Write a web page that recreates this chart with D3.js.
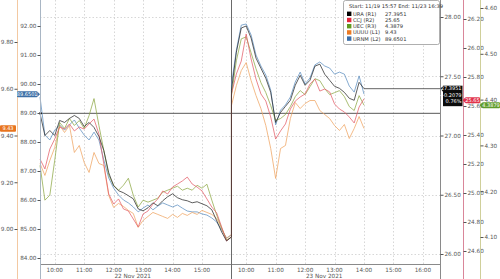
<!DOCTYPE html>
<html><head><meta charset="utf-8">
<script src="https://cdn.jsdelivr.net/npm/d3@7"></script>
<style>
html,body{margin:0;padding:0;background:#fff;}
svg{display:block;font-family:"DejaVu Sans",sans-serif;}
</style></head><body>
<svg id="chart" width="500" height="279"></svg>
<script>
// ---------------- DATA ----------------
const dayLabels = ["22 Nov 2021", "23 Nov 2021"];
const legendTitle = "Start: 11/19 15:57 End: 11/23 16:39";
const seriesNames = ["URA (R1)", "CCJ (R2)", "UEC (R3)", "UUUU (L1)", "URNM (L2)"];
const lastValues = ["27.3951", "25.65", "4.3879", "9.43", "89.6501"];
const uraChange = ["+0.2079", "0.76%"];
const uraPrevClose = 27.1872;
const day1TickLabels = ["10:00", "11:00", "12:00", "13:00", "14:00", "15:00"];
const day2TickLabels = ["10:00", "11:00", "12:00", "13:00", "14:00", "15:00", "16:00"];
const stepMinutes = 10; // sample spacing, from 09:30 each day

const uraTicks = [26, 26.5, 27, 27.5, 28];
const ccjTicks = [24.6, 24.8, 25.0, 25.2, 25.4, 25.6, 25.8, 26.0, 26.2];
const uecTicks = [4.1, 4.2, 4.3, 4.4, 4.5, 4.6];
const uuuuTicks = [9.0, 9.2, 9.4, 9.6, 9.8];
const urnmTicks = [84, 85, 86, 87, 88, 89, 90, 91, 92];

const ura1 = [27.186,27.000,27.042,27.000,27.127,27.110,27.144,27.169,27.144,27.076,27.110,27.068,26.992,26.873,26.686,26.576,26.534,26.517,26.492,26.466,26.381,26.364,26.390,26.432,26.407,26.449,26.483,26.508,26.475,26.458,26.449,26.432,26.441,26.424,26.407,26.373,26.280,26.186,26.110,26.144];
const ura2 = [27.381,27.703,27.907,27.924,27.822,27.653,27.568,27.483,27.364,27.110,27.195,27.246,27.297,27.424,27.508,27.424,27.466,27.585,27.602,27.517,27.466,27.415,27.398,27.364,27.314,27.297,27.449,27.3951];
const ccj1 = [25.234,25.166,25.303,25.372,25.455,25.441,25.476,25.428,25.455,25.441,25.476,25.510,25.407,25.200,24.993,24.924,24.959,24.890,24.876,24.821,24.766,24.855,24.876,24.924,24.959,25.014,24.993,25.041,25.062,25.083,25.110,25.062,25.041,25.014,24.959,24.903,24.862,24.766,24.669,24.697];
const ccj2 = [25.683,25.821,25.910,26.097,25.924,25.786,25.683,25.634,25.524,25.372,25.428,25.476,25.579,25.634,25.662,25.683,25.752,25.786,25.703,25.717,25.697,25.614,25.579,25.559,25.524,25.483,25.593,25.65];
const uec1 = [4.2565,4.1804,4.1913,4.2674,4.3500,4.3370,4.3587,4.3435,4.3543,4.3370,4.3652,4.4022,4.3435,4.2891,4.2348,4.2130,4.2022,4.2130,4.2283,4.1913,4.1652,4.1804,4.1761,4.1804,4.1848,4.1978,4.2022,4.2065,4.2109,4.2022,4.2065,4.2022,4.2130,4.2065,4.2152,4.1804,4.1478,4.1196,4.0935,4.1000];
const uec2 = [4.4087,4.4848,4.5326,4.5370,4.5022,4.4674,4.4370,4.4152,4.3870,4.3543,4.3587,4.3674,4.3848,4.4065,4.4196,4.4109,4.4283,4.4457,4.4413,4.4239,4.4109,4.4152,4.4196,4.4065,4.3848,4.3761,4.4087,4.3879];
const uuuu1 = [9.2803,9.2291,9.2932,9.3487,9.4427,9.4128,9.4427,9.3274,9.3573,9.2846,9.2419,9.3274,9.2803,9.2718,9.1436,9.0923,9.1094,9.0966,9.0795,9.0667,9.0068,9.0368,9.0538,9.0709,9.0624,9.0538,9.0453,9.0624,9.0496,9.0667,9.0581,9.0709,9.0624,9.0795,9.0709,9.0624,9.0453,9.0026,8.9598,8.9769];
const uuuu2 = [9.5282,9.6137,9.6778,9.7120,9.6350,9.5709,9.5154,9.4427,9.3444,9.2162,9.3444,9.3573,9.4726,9.5410,9.5154,9.5368,9.5496,9.5496,9.5068,9.4897,9.4726,9.4427,9.4214,9.4470,9.3872,9.4299,9.4812,9.43];
const urnm1 = [89.55,88.24,88.07,88.41,88.59,88.41,88.59,88.76,88.48,88.24,88.07,88.34,88.07,87.38,86.76,86.41,86.17,86.00,85.90,85.76,85.59,85.72,85.83,85.66,85.79,85.90,85.83,85.76,85.83,85.72,85.62,85.59,85.59,85.52,85.48,85.38,85.24,84.97,84.69,84.79];
const urnm2 = [89.97,91.17,92.03,92.07,91.69,91.00,90.62,90.31,89.79,88.59,89.10,89.28,89.55,90.07,90.41,90.00,90.21,90.66,90.76,90.62,90.55,90.34,90.41,90.34,89.93,89.72,90.28,89.6501];

// ---------------- LAYOUT ----------------
const W = 500, H = 279;
const L = 40, R = 440, T = 0, B = 264;
const sessionHours = 6.5; // 09:30 - 16:00
const svg = d3.select("#chart");

// continuous "trading hours" axis: day1 09:30 = 0, day2 09:30 = 6.5
const x = d3.scaleLinear().domain([0, 13.58]).range([L, R]);
const yURA = d3.scaleLinear().domain([26, 28]).range([254, 17]);
const yCCJ = d3.scaleLinear().domain([24.6, 26.2]).range([251, 19]);
const yUEC = d3.scaleLinear().domain([4.1, 4.6]).range([237, 8]);
const yUUUU = d3.scaleLinear().domain([9.0, 9.8]).range([229, 42]);
const yURNM = d3.scaleLinear().domain([84, 92]).range([258, 26]);

const tickPos1 = day1TickLabels.map((d, i) => 0.5 + i);
const tickPos2 = day2TickLabels.map((d, i) => sessionHours + 0.5 + i);

// grid
const grid = svg.append("g");
grid.selectAll("line.v").data(tickPos1.concat(tickPos2)).join("line")
  .attr("x1", d => Math.round(x(d)) + 0.5).attr("x2", d => Math.round(x(d)) + 0.5)
  .attr("y1", T).attr("y2", B)
  .attr("stroke", "#cdcdcd").attr("stroke-width", 0.8).attr("stroke-dasharray", "1.5,2");
grid.selectAll("line.h").data(uraTicks).join("line")
  .attr("x1", L).attr("x2", R)
  .attr("y1", d => Math.round(yURA(d)) + 0.5).attr("y2", d => Math.round(yURA(d)) + 0.5)
  .attr("stroke", "#cdcdcd").attr("stroke-width", 0.8).attr("stroke-dasharray", "1.5,2");

// frame
const sepX = Math.round(x(sessionHours)) + 0.5;
svg.append("line").attr("x1", L + 0.5).attr("x2", L + 0.5).attr("y1", T).attr("y2", H).attr("stroke", "#9aa6b2").attr("stroke-width", 1);
svg.append("line").attr("x1", R + 0.5).attr("x2", R + 0.5).attr("y1", T).attr("y2", B).attr("stroke", "#8a8a8a").attr("stroke-width", 1);
svg.append("line").attr("x1", L).attr("x2", R).attr("y1", B + 0.5).attr("y2", B + 0.5).attr("stroke", "#8a8a8a").attr("stroke-width", 1);
svg.append("line").attr("x1", sepX).attr("x2", sepX).attr("y1", T).attr("y2", H).attr("stroke", "#6a6a6a").attr("stroke-width", 1);

// prior close line for URA
svg.append("line").attr("x1", L).attr("x2", R)
  .attr("y1", yURA(uraPrevClose)).attr("y2", yURA(uraPrevClose))
  .attr("stroke", "#444").attr("stroke-width", 0.9);

// series
function build(v1, v2) {
  const pts = [];
  v1.forEach((v, i) => pts.push([i * stepMinutes / 60, v]));
  v2.forEach((v, i) => pts.push([sessionHours + i * stepMinutes / 60, v]));
  return pts;
}
const series = [
  {d: build(urnm1, urnm2), y: yURNM, c: "#5e8fc0"},
  {d: build(uuuu1, uuuu2), y: yUUUU, c: "#efa462"},
  {d: build(uec1, uec2), y: yUEC, c: "#8ea846"},
  {d: build(ccj1, ccj2), y: yCCJ, c: "#e35d68"},
  {d: build(ura1, ura2), y: yURA, c: "#2a2a2a"}
];
const plot = svg.append("g");
series.forEach(s => {
  plot.append("path").datum(s.d)
    .attr("fill", "none").attr("stroke", s.c).attr("stroke-width", 0.75)
    .attr("stroke-linejoin", "miter")
    .attr("d", d3.line().x(p => x(p[0])).y(p => s.y(p[1])));
});

// last value line for URA
const lastT = sessionHours + (ura2.length - 1) * stepMinutes / 60;
svg.append("line").attr("x1", x(lastT)).attr("x2", R)
  .attr("y1", yURA(+lastValues[0])).attr("y2", yURA(+lastValues[0]))
  .attr("stroke", "#555").attr("stroke-width", 0.9);
svg.append("circle").attr("cx", L + 0.5).attr("cy", yURA(uraPrevClose)).attr("r", 1.3).attr("fill", "#111");

// axes
const fmt = d3.format(".2f");
function yAxis(scale, ticks, xpos, side, lineColor) {
  svg.append("line").attr("x1", xpos + 0.5).attr("x2", xpos + 0.5).attr("y1", T).attr("y2", H)
    .attr("stroke", lineColor).attr("stroke-width", 1);
  const ax = (side === "left" ? d3.axisLeft(scale) : d3.axisRight(scale))
    .tickValues(ticks).tickFormat(fmt).tickSize(3).tickPadding(1);
  const g = svg.append("g").attr("transform", `translate(${xpos + 0.5},0)`).call(ax);
  g.select(".domain").remove();
  g.selectAll(".tick line").attr("stroke", "#555");
  g.selectAll(".tick text").attr("fill", "#555").style("font-size", "5.7px").style("font-family", "DejaVu Sans");
}
yAxis(yUUUU, uuuuTicks, 17, "left", "#f3c9a2");
yAxis(yURNM, urnmTicks, 40, "left", "#a9b6c4");
yAxis(yURA, uraTicks, 440, "right", "#8a8a8a");
yAxis(yCCJ, ccjTicks, 463, "right", "#d9869a");
yAxis(yUEC, uecTicks, 480, "right", "#cfcf9a");

// x axis
const xa = svg.append("g").attr("transform", `translate(0,${B})`);
xa.selectAll("text.t").data(tickPos1.map((p, i) => [p, day1TickLabels[i]]).concat(tickPos2.map((p, i) => [p, day2TickLabels[i]])))
  .join("text").attr("x", d => x(d[0])).attr("y", 7.5).attr("text-anchor", "middle")
  .attr("fill", "#555").style("font-size", "5.7px").text(d => d[1]);
xa.selectAll("text.d").data(dayLabels).join("text")
  .attr("x", (d, i) => x(i * sessionHours + sessionHours / 2) - 3).attr("y", 13.7).attr("text-anchor", "middle")
  .attr("fill", "#555").style("font-size", "5.7px").text(d => d);

// badges
function badge(xl, yc, w, h, fill, pointer) {
  const g = svg.append("g");
  g.append("rect").attr("x", xl).attr("y", yc - h / 2).attr("width", w).attr("height", h).attr("rx", 1).attr("fill", fill);
  if (pointer === "right") {
    g.append("path").attr("d", `M${xl + w},${yc - 2.5}L${xl + w + 2.5},${yc}L${xl + w},${yc + 2.5}Z`).attr("fill", fill);
  } else if (pointer === "left") {
    g.append("path").attr("d", `M${xl},${yc - 2.5}L${xl - 2.5},${yc}L${xl},${yc + 2.5}Z`).attr("fill", fill);
  }
  return g;
}
function badgeText(g, xc, y, txt, anchor) {
  g.append("text").attr("x", xc).attr("y", y).attr("text-anchor", anchor || "middle")
    .attr("fill", "#fff").style("font-size", "5px").text(txt);
}
let g;
g = badge(0, yUUUU(+lastValues[3]), 16, 6.5, "#e8741e", null);
badgeText(g, 8, yUUUU(+lastValues[3]) + 1.8, lastValues[3]);
g = badge(17, yURNM(+lastValues[4]), 20.5, 6, "#3c6fa6", "right");
badgeText(g, 27.2, yURNM(+lastValues[4]) + 1.8, lastValues[4]);

const yU = yURA(+lastValues[0]);
g = svg.append("g");
g.append("rect").attr("x", 443).attr("y", yU - 3).attr("width", 19.5).attr("height", 20.5).attr("fill", "#0c0c0c");
g.append("path").attr("d", `M443,${yU - 3}L440.5,${yU}L443,${yU + 3}Z`).attr("fill", "#0c0c0c");
badgeText(g, 461.5, yU + 1.8, lastValues[0], "end");
badgeText(g, 461.5, yU + 8.2, uraChange[0], "end");
badgeText(g, 461.5, yU + 14.6, uraChange[1], "end");

g = badge(465, yCCJ(+lastValues[1]) + 1.5, 15, 6, "#e1334b", "left");
badgeText(g, 472.5, yCCJ(+lastValues[1]) + 3.3, lastValues[1]);
g = badge(482, yUEC(+lastValues[2]), 18, 6, "#5f9c2a", "left");
badgeText(g, 491, yUEC(+lastValues[2]) + 1.8, lastValues[2]);

// legend
const colors = ["#000000", "#e3283c", "#5f9a20", "#ec7a22", "#3a6ea8"];
const lg = svg.append("g");
lg.append("rect").attr("x", 343.5).attr("y", 0.5).attr("width", 96).attr("height", 44)
  .attr("fill", "#fff").attr("stroke", "#9a9a9a").attr("stroke-width", 0.8).attr("rx", 2);
lg.append("text").attr("x", 349).attr("y", 7.8).attr("fill", "#333").style("font-size", "5.2px").text(legendTitle);
seriesNames.forEach((n, i) => {
  const yc = 13.8 + i * 6.2;
  lg.append("rect").attr("x", 347).attr("y", yc - 2.2).attr("width", 4.4).attr("height", 4.4).attr("fill", colors[i]);
  const t = lg.append("text").attr("x", 353).attr("y", yc + 1.9).attr("fill", "#333").style("font-size", "5.2px").text(n);
  const w = t.node().getComputedTextLength();
  lg.append("text").attr("x", Math.max(385, 353 + w + 3)).attr("y", yc + 1.9).attr("fill", "#333").style("font-size", "5.2px").text(lastValues[i]);
});
</script>
</body></html>
